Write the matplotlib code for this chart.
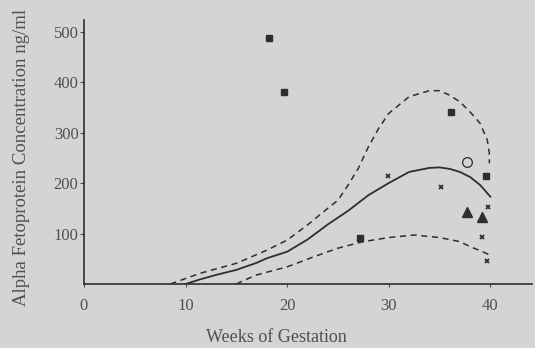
import matplotlib
matplotlib.use('Agg')
import matplotlib.pyplot as plt

# mean curve and upper / lower limits (weeks, ng/ml)
mean_wk = [10, 11.4, 13, 15, 17, 18, 20, 22, 24, 26, 28, 30, 32, 34, 35, 36, 37, 38, 39, 40]
mean_val = [0, 9, 18, 28, 42, 51, 64, 88, 118, 145, 176, 200, 222, 230, 231, 228, 222, 212, 196, 173]

upper_wk = [8.5, 11.4, 15, 18, 20, 22, 24, 25, 26, 27, 28, 29, 30, 32, 34, 35, 36, 37, 38, 39, 39.7, 39.9, 39.9]
upper_val = [0, 21, 41, 67, 87, 117, 150, 166, 196, 229, 272, 308, 338, 371, 383, 383, 374, 361, 341, 318, 285, 259, 239]

lower_wk = [15, 15.5, 17, 20, 22.5, 25, 27.5, 30, 32.5, 35, 37, 38, 39, 40]
lower_val = [0, 5, 18, 34, 53, 71, 84, 92, 97, 92, 84, 74, 66, 57]

# individual cases
sq_wk = [18.2, 19.7, 36.1, 39.6, 27.2]
sq_val = [488, 380, 340, 214, 91]
cross_wk = [29.9, 35.1, 39.8, 39.2, 39.7]
cross_val = [214, 192, 152, 94, 45]
tri_wk = [37.7, 39.2]
tri_val = [143, 133]
circ_wk = [37.7]
circ_val = [241]

xticks = [0, 10, 20, 30, 40]
yticks = [100, 200, 300, 400, 500]

bg = '#d4d4d4'
ink = '#2e2e2e'
txt = '#505050'

fig = plt.figure(figsize=(5.35, 3.48), dpi=100)
fig.patch.set_facecolor(bg)
ax = fig.add_axes([84/535, 64/348, 448/535, 264/348])
ax.set_facecolor(bg)

ax.plot(mean_wk, mean_val, color=ink, lw=1.3)
ax.plot(upper_wk, upper_val, color=ink, lw=1.1, dashes=(4, 3))
ax.plot(lower_wk, lower_val, color=ink, lw=1.1, dashes=(4, 3))

ax.plot(sq_wk, sq_val, 's', color=ink, ms=5, ls='none')
ax.plot(cross_wk, cross_val, 'x', color=ink, ms=3.5, mew=1.3, ls='none')
ax.plot(tri_wk, tri_val, '^', color=ink, ms=7, ls='none')
ax.plot(circ_wk, circ_val, 'o', mfc='none', mec=ink, ms=7, mew=0.9, ls='none')

ax.set_xlim(0, 44.1)
ax.set_ylim(0, 523)
ax.spines['top'].set_visible(False)
ax.spines['right'].set_visible(False)
for s in ['left', 'bottom']:
    ax.spines[s].set_color(ink)
    ax.spines[s].set_linewidth(1.2)

ax.set_xticks(xticks)
ax.set_yticks(yticks)
ax.tick_params(axis='x', length=2, pad=8, colors=txt, labelsize=12)
ax.tick_params(axis='y', length=3, pad=1, colors=txt, labelsize=12)
for lab in ax.get_xticklabels() + ax.get_yticklabels():
    lab.set_family('Liberation Serif')

ax.set_xlabel('Weeks of Gestation', family='Liberation Serif', fontsize=13, color=txt)
ax.set_ylabel('Alpha Fetoprotein Concentration ng/ml', family='Liberation Serif', fontsize=13.5, color=txt)
ax.yaxis.set_label_coords(-0.12, 0.48)
ax.xaxis.set_label_coords(0.43, -0.17)

plt.savefig('out.png', dpi=100, facecolor=bg)
